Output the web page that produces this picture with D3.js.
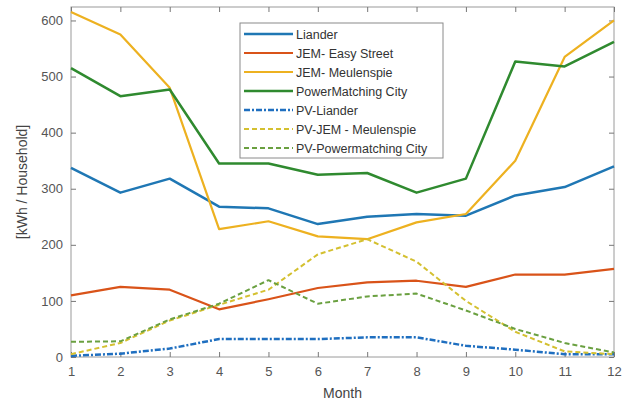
<!DOCTYPE html>
<html><head><meta charset="utf-8">
<script src="https://cdn.jsdelivr.net/npm/d3@7"></script>
<style>body{margin:0;background:#fff}text{font-family:"Liberation Sans",Arial,sans-serif}</style>
</head><body><svg id="c" width="629" height="404"></svg>
<script>
const months = [1,2,3,4,5,6,7,8,9,10,11,12];
const yTicks = [0,100,200,300,400,500,600];
const liander = [337,293,318,268,265,237,250,255,252,288,303,340];
const jemEasy = [110,125,120,85,103,123,133,136,125,147,147,157];
const jemMeulen = [615,575,480,228,242,215,210,240,255,350,535,600];
const pmCity = [515,465,477,345,345,325,328,293,318,527,518,562];
const pvLiander = [2,6,15,32,32,32,35,35,20,13,5,5];
const pvJem = [5,25,65,93,120,183,210,170,100,45,10,5];
const pvPm = [27,28,67,95,137,95,108,113,83,50,25,8];
const names = ["Liander","JEM- Easy Street","JEM- Meulenspie","PowerMatching City","PV-Liander","PV-JEM - Meulenspie","PV-Powermatching City"];

const series = [
 {name:names[0], v:liander, c:"#1f77b4", d:null, w:2.5},
 {name:names[1], v:jemEasy, c:"#d95319", d:null, w:2.2},
 {name:names[2], v:jemMeulen, c:"#edb120", d:null, w:2.2},
 {name:names[3], v:pmCity, c:"#2f8a2f", d:null, w:2.5},
 {name:names[4], v:pvLiander, c:"#1f6fc0", d:"6,2,2,2", w:2.5},
 {name:names[5], v:pvJem, c:"#d4c030", d:"5,3", w:2},
 {name:names[6], v:pvPm, c:"#6aa040", d:"5,3", w:2}
];

const svg = d3.select("#c");
const L=71,R=614,T=7,B=357;
const x = d3.scaleLinear().domain([1,12]).range([L,R]);
const y = d3.scaleLinear().domain([0,624]).range([B,T]);

// frame
svg.append("rect").attr("x",L).attr("y",T).attr("width",R-L).attr("height",B-T)
  .attr("fill","none").attr("stroke","#9a9a9a").attr("stroke-width",1);

const axB = svg.append("g").attr("transform",`translate(0,${B})`)
  .call(d3.axisBottom(x).tickValues(months).tickFormat(d3.format("d")).tickSizeInner(-5).tickSizeOuter(0).tickPadding(10));
const axT = svg.append("g").attr("transform",`translate(0,${T})`)
  .call(d3.axisTop(x).tickValues(months).tickFormat("").tickSizeInner(-5).tickSizeOuter(0));
const axL = svg.append("g").attr("transform",`translate(${L},0)`)
  .call(d3.axisLeft(y).tickValues(yTicks).tickSizeInner(-5).tickSizeOuter(0).tickPadding(8));
const axR = svg.append("g").attr("transform",`translate(${R},0)`)
  .call(d3.axisRight(y).tickValues(yTicks).tickFormat("").tickSizeInner(-5).tickSizeOuter(0));
[axB,axT,axL,axR].forEach(a=>{
  a.select(".domain").remove();
  a.selectAll("line").attr("stroke","#777");
  a.selectAll("text").attr("fill","#555").style("font-size","13px").style("font-family","'Liberation Sans',Arial,sans-serif");
});

svg.append("text").attr("x",(L+R)/2).attr("y",398).attr("text-anchor","middle")
  .attr("fill","#444").style("font-size","14px").text("Month");
svg.append("text").attr("transform",`translate(27,${(T+B)/2}) rotate(-90)`).attr("text-anchor","middle")
  .attr("fill","#444").style("font-size","14px").text("[kWh / Household]");

const line = d3.line().x((d,i)=>x(months[i])).y(d=>y(d));
// draw order: solid first, then PV
series.forEach(s=>{
  svg.append("path").datum(s.v).attr("d",line).attr("fill","none")
    .attr("stroke",s.c).attr("stroke-width",s.w).attr("stroke-dasharray",s.d)
    .attr("stroke-linejoin","round");
});

// legend
const lg = svg.append("g");
lg.append("rect").attr("x",240).attr("y",23).attr("width",203).attr("height",135)
  .attr("fill","#fff").attr("stroke","#8a8a8a").attr("stroke-width",1);
series.forEach((s,i)=>{
  const yy = 34 + i*19;
  lg.append("line").attr("x1",244).attr("x2",293).attr("y1",yy).attr("y2",yy)
    .attr("stroke",s.c).attr("stroke-width",s.w).attr("stroke-dasharray",s.d);
  lg.append("text").attr("x",296).attr("y",yy+4.5).attr("fill","#333")
    .style("font-size","12.5px").text(s.name);
});
</script></body></html>
